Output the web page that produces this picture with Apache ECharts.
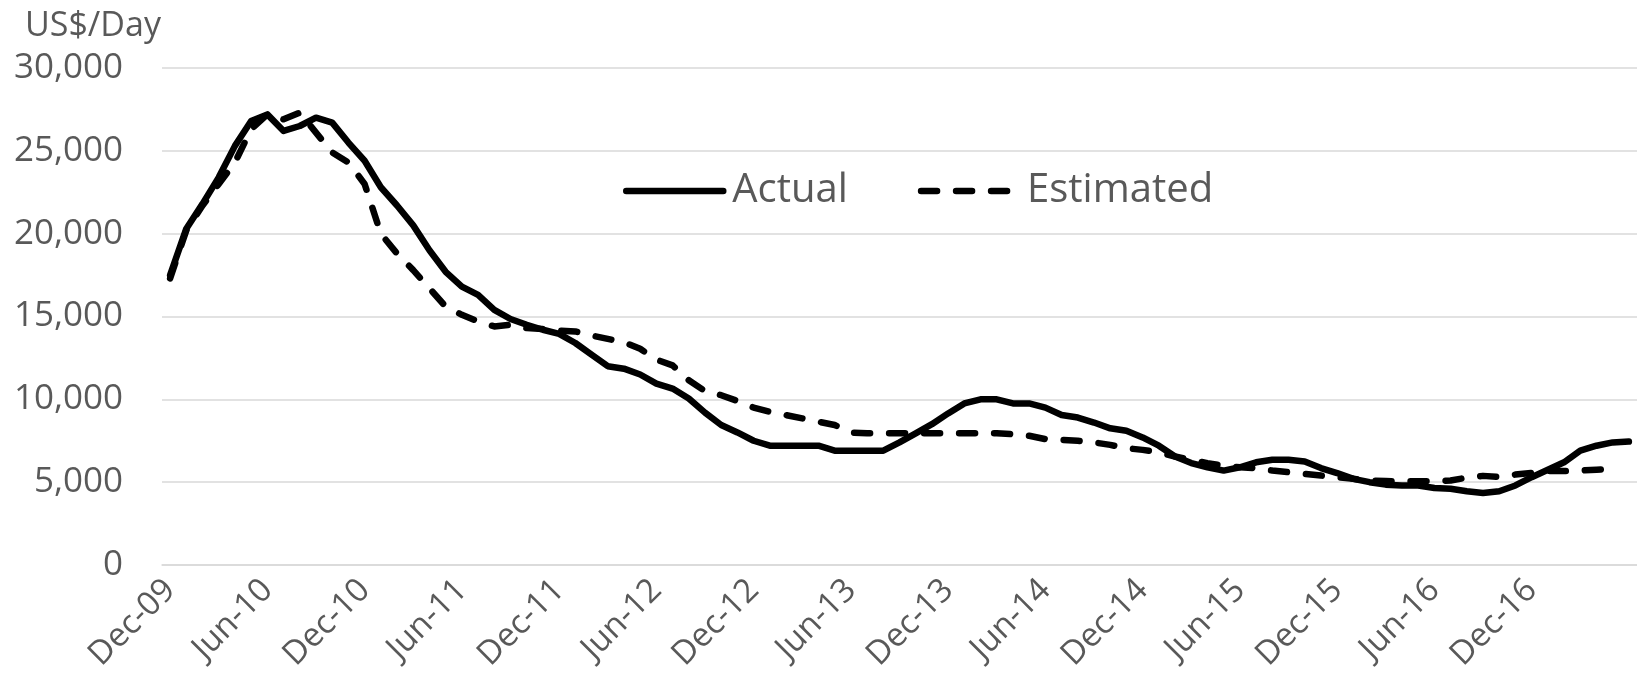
<!DOCTYPE html>
<html>
<head>
<meta charset="utf-8">
<title>Actual vs Estimated</title>
<script src="https://cdn.jsdelivr.net/npm/echarts@6/dist/echarts.min.js"></script>
<style>
  html, body { margin: 0; padding: 0; background: #fff; }
  #chart { width: 1637px; height: 678px; }
</style>
</head>
<body>
<div id="chart"></div>
<script>
// monthly categories Dec-09 .. Jun-17
const monthNames = ['Jan', 'Feb', 'Mar', 'Apr', 'May', 'Jun', 'Jul', 'Aug', 'Sep', 'Oct', 'Nov', 'Dec']
const categories = ['Dec-09']
for (let y = 10; y <= 17; y++) {
  for (let m = 0; m < 12; m++) {
    if (y === 17 && m > 5) break
    categories.push(monthNames[m] + '-' + y)
  }
}

const yTicks = [0, 5000, 10000, 15000, 20000, 25000, 30000]

const actual = [
  17500, 20300, 21800, 23400, 25300, 26800, 27200, 26200, 26500, 27000, 26700, 25500,
  24400, 22800, 21700, 20500, 19000, 17700, 16800, 16300, 15400, 14850, 14500, 14200,
  13950, 13400, 12700, 12000, 11850, 11500, 10950, 10650, 10050, 9200, 8450, 8000,
  7500, 7200, 7200, 7200, 7200, 6900, 6900, 6900, 6900, 7400, 7950, 8500,
  9150, 9750, 10000, 10000, 9750, 9750, 9500, 9050, 8900, 8600, 8250, 8100,
  7700, 7200, 6550, 6150, 5900, 5700, 5900, 6200, 6350, 6350, 6250, 5850,
  5550, 5200, 5000, 4850, 4800, 4800, 4650, 4600, 4450, 4350, 4450, 4800,
  5300, 5750, 6200, 6900, 7200, 7400, 7450
]

const estimated = [
  17300, 20200, 21700, 23000, 24300, 26300, 27200, 26900, 27300, 26100, 24900, 24300,
  23000, 20000, 18800, 17800, 16700, 15600, 15100, 14700, 14400, 14500, 14300, 14250,
  14150, 14100, 13850, 13650, 13450, 13050, 12400, 12050, 11150, 10500, 10250, 9900,
  9500, 9250, 9050, 8850, 8650, 8450, 8000, 7950, 7950, 7950, 7950, 7950,
  7950, 7950, 7950, 7950, 7900, 7800, 7600, 7550, 7500, 7400, 7250, 7050,
  6950, 6800, 6550, 6350, 6150, 6000, 5900, 5850, 5700, 5600, 5500, 5400,
  5300, 5200, 5100, 5070, 5050, 5050, 5070, 5100, 5270, 5380, 5320, 5460,
  5560, 5670, 5670, 5700, 5750, 5800
]

const textColor = '#595959'
const gridColor = '#d9d9d9'
const fontFamily = '"Open Sans", "Noto Sans", sans-serif'
const estDash = [16, 19]

const chart = echarts.init(document.getElementById('chart'), null, { renderer: 'canvas' })

chart.setOption({
  animation: false,
  textStyle: { fontFamily },
  title: {
    text: 'US$/Day',
    left: 20,
    top: 4,
    textStyle: { color: textColor, fontSize: 34, fontWeight: 'normal', fontFamily }
  },
  legend: {
    left: 618,
    top: 166,
    itemWidth: 97,
    itemHeight: 6,
    itemGap: 70,
    textStyle: { color: textColor, fontSize: 40, fontFamily, padding: [0, 0, 0, 4] },
    data: [
      { name: 'Actual', itemStyle: { opacity: 0 }, lineStyle: { width: 6.5, type: 'solid', cap: 'round' } },
      { name: 'Estimated', itemStyle: { opacity: 0 }, lineStyle: { width: 6.5, type: estDash, cap: 'round' } }
    ]
  },
  grid: {
    left: 162,
    right: -19,
    top: 68,
    bottom: 113,
    containLabel: false
  },
  xAxis: {
    type: 'category',
    data: categories,
    boundaryGap: true,
    axisLine: { lineStyle: { color: gridColor, width: 1.5 } },
    axisTick: { interval: 5, length: 11, lineStyle: { color: gridColor, width: 1.5 } },
    axisLabel: {
      interval: (i) => i % 6 === 0 && i < categories.length - 1,
      rotate: 45,
      margin: 20,
      color: textColor,
      fontSize: 33,
      fontFamily
    },
    splitLine: { show: false }
  },
  yAxis: {
    type: 'value',
    min: yTicks[0],
    max: yTicks[yTicks.length - 1],
    interval: yTicks[1] - yTicks[0],
    axisLine: { show: false },
    axisTick: { show: false },
    axisLabel: {
      margin: 39,
      color: textColor,
      fontSize: 35,
      fontFamily,
      formatter: v => v.toLocaleString('en-US')
    },
    splitLine: { lineStyle: { color: gridColor, width: 1.5 } }
  },
  series: [
    {
      name: 'Actual',
      type: 'line',
      data: actual,
      symbol: 'none',
      lineStyle: { color: '#000', width: 6.5, cap: 'round', join: 'round' },
      itemStyle: { color: '#000' },
      z: 3
    },
    {
      name: 'Estimated',
      type: 'line',
      data: estimated,
      symbol: 'none',
      lineStyle: { color: '#000', width: 6.5, type: estDash, cap: 'round', join: 'round' },
      itemStyle: { color: '#000' },
      z: 2
    }
  ]
})
</script>
</body>
</html>
